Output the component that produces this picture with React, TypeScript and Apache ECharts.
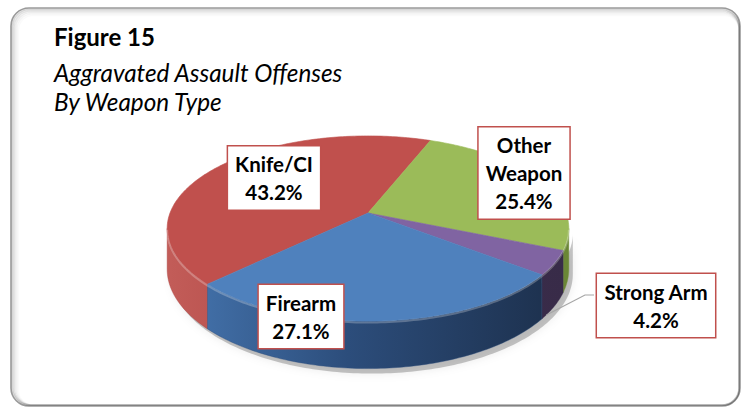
import React, { useEffect, useRef } from 'react';
import * as echarts from 'echarts';

// ---- data ----
const categories = ['Knife/CI', 'Other Weapon', 'Strong Arm', 'Firearm'];
const values = [43.2, 25.4, 4.2, 27.1];
const labelNames = ['Knife/CI', 'Other\nWeapon', 'Strong Arm', 'Firearm'];
const titleText = 'Figure 15';
const subtitleLines = ['Aggravated Assault Offenses', 'By Weapon Type'];

// ---- styles / layout ----
const TOP_COLORS = ['#C0504D', '#9BBB59', '#8064A2', '#4F81BD'];
const SIDE_STOPS = [
  ['#c25c58', '#ab423f', '#8a302e'],
  ['#8aa94c', '#7a963f', '#6a8636'],
  ['#4a3a60', '#3d2f50', '#382b48'],
  ['#4676b0', '#2c4d7b', '#1c2f4b'],
];
// perspective-projected pie geometry
const CX = 368, CY = 213, RXP = 198, RYP = 90, K = 0.1676, DEPTH = 39.5, START = 225.7;
const LABEL_CENTERS = [[274, 178], [524, 173], [656, 305.5], [301, 316.5]];
const FONT = 'Lato, "Open Sans", sans-serif';

const total = values.reduce((a, b) => a + b, 0);
const FRONT_MIN = (Math.acos(-K) * 180) / Math.PI; // silhouette tangents
const FRONT_MAX = 360 - FRONT_MIN;

function pt(theta: number, depthFrac: number): number[] {
  const r = (theta * Math.PI) / 180;
  const u = Math.sin(r);
  const v = -Math.cos(r);
  const s = 1 / (1 - K * v);
  return [CX + RXP * u * s, CY + RYP * v * s + DEPTH * s * depthFrac];
}
function arc(s: number, e: number, dz: number, out: number[][], reverse = false) {
  const n = Math.max(2, Math.ceil(Math.abs(e - s)));
  for (let k = 0; k <= n; k++) {
    const t = reverse ? e - ((e - s) * k) / n : s + ((e - s) * k) / n;
    out.push(pt(t, dz));
  }
}

export default function App() {
  const ref = useRef<HTMLDivElement>(null);
  useEffect(() => {
    document.body.style.margin = '0';
    const chart = echarts.init(ref.current!, null, { renderer: 'svg' });
    const fx = 11, fy = 8, fw = 729, fh = 398, fr = 18;
    const frame: any[] = [
      { type: 'rect', z: 0, shape: { x: fx, y: fy, width: fw, height: fh, r: fr }, style: { fill: '#ffffff', stroke: '#9a9a9a', lineWidth: 1.6 } },
    ];
    [[1.5, 0.16], [3, 0.11], [4.5, 0.07], [6, 0.04], [7.5, 0.02]].forEach(([d, a]) => {
      frame.push({
        type: 'rect', z: 0, silent: true,
        shape: { x: fx + d, y: fy + d, width: fw - d - 1, height: fh - d - 1, r: fr - d / 2 },
        style: { fill: 'none', stroke: `rgba(0,0,0,${a})`, lineWidth: 1.6 },
      });
    });
    const option: any = {
      animation: false,
      backgroundColor: '#ffffff',
      graphic: [
        ...frame,
        {
          type: 'text', z: 3, x: 54, y: 24,
          style: { text: titleText, font: `bold 24px ${FONT}`, fill: '#000', align: 'left', verticalAlign: 'top' },
        },
        {
          type: 'text', z: 3, x: 54, y: 58,
          style: { text: subtitleLines.join('\n'), font: `italic 24.3px ${FONT}`, lineHeight: 29, fill: '#000', align: 'left', verticalAlign: 'top' },
        },
      ],
      series: [
        {
          type: 'custom',
          coordinateSystem: 'none',
          data: values.map((v, i) => ({ name: categories[i], value: v })),
          renderItem: (params: any, api: any) => {
            const i = params.dataIndex;
            const v = api.value(0);
            let before = 0;
            for (let k = 0; k < i; k++) before += values[k];
            const a0 = START + (360 * before) / total;
            const a1 = a0 + (360 * v) / total;
            const children: any[] = [];
            if (i === 0) {
              const sh: number[][] = [];
              arc(FRONT_MIN, FRONT_MAX, 1, sh);
              arc(FRONT_MIN, FRONT_MAX, 0, sh, true);
              children.push({
                type: 'polygon', z2: 0, x: 4, y: 5, shape: { points: sh },
                style: { fill: 'rgba(0,0,0,0.22)', shadowBlur: 10, shadowColor: 'rgba(0,0,0,0.35)' },
              });
            }
            const sideFill = new echarts.graphic.LinearGradient(CX - RXP, 0, CX + RXP, 0, [
              { offset: 0, color: SIDE_STOPS[i][0] },
              { offset: 0.45, color: SIDE_STOPS[i][1] },
              { offset: 1, color: SIDE_STOPS[i][2] },
            ], true);
            for (const k of [0, 360]) {
              const s = Math.max(a0, FRONT_MIN + k);
              const e = Math.min(a1, FRONT_MAX + k);
              if (e > s) {
                const pts: number[][] = [];
                arc(s, e, 0, pts);
                arc(s, e, 1, pts, true);
                children.push({ type: 'polygon', z2: 1, shape: { points: pts }, style: { fill: sideFill, stroke: SIDE_STOPS[i][1], lineWidth: 0.4 } });
                const rim: number[][] = [];
                arc(s, e, 0.03, rim);
                children.push({ type: 'polyline', z2: 4, shape: { points: rim }, style: { fill: 'none', stroke: 'rgba(255,255,255,0.25)', lineWidth: 2 } });
              }
            }
            const tp: number[][] = [[CX, CY]];
            arc(a0, a1, 0, tp);
            children.push({ type: 'polygon', z2: 3, shape: { points: tp }, style: { fill: TOP_COLORS[i], stroke: TOP_COLORS[i], lineWidth: 0.6 } });
            const [lx, ly] = LABEL_CENTERS[i];
            if (i === 2) {
              const mid = (a0 + a1) / 2;
              const p0 = pt(mid + 4, 1);
              children.push({
                type: 'polyline', z2: 8,
                shape: { points: [[p0[0] - 2, p0[1] + 2], [lx - 71, ly - 10.5], [lx - 62, ly - 10.5]] },
                style: { fill: 'none', stroke: '#a6a6a6', lineWidth: 1.2 },
              });
            }
            children.push({
              type: 'text', z2: 10, x: lx, y: ly,
              style: {
                text: `${labelNames[i]}\n${v.toFixed(1)}%`,
                font: `bold 20.5px ${FONT}`, fill: '#000', lineHeight: 28,
                align: 'center', verticalAlign: 'middle',
                backgroundColor: '#ffffff', borderColor: '#c0504d', borderWidth: 1.5,
                padding: [4, 7, 3, 7],
              },
            });
            return { type: 'group', children };
          },
        },
      ],
    };
    chart.setOption(option);
    return () => chart.dispose();
  }, []);
  return <div ref={ref} style={{ width: 743, height: 408 }} />;
}
